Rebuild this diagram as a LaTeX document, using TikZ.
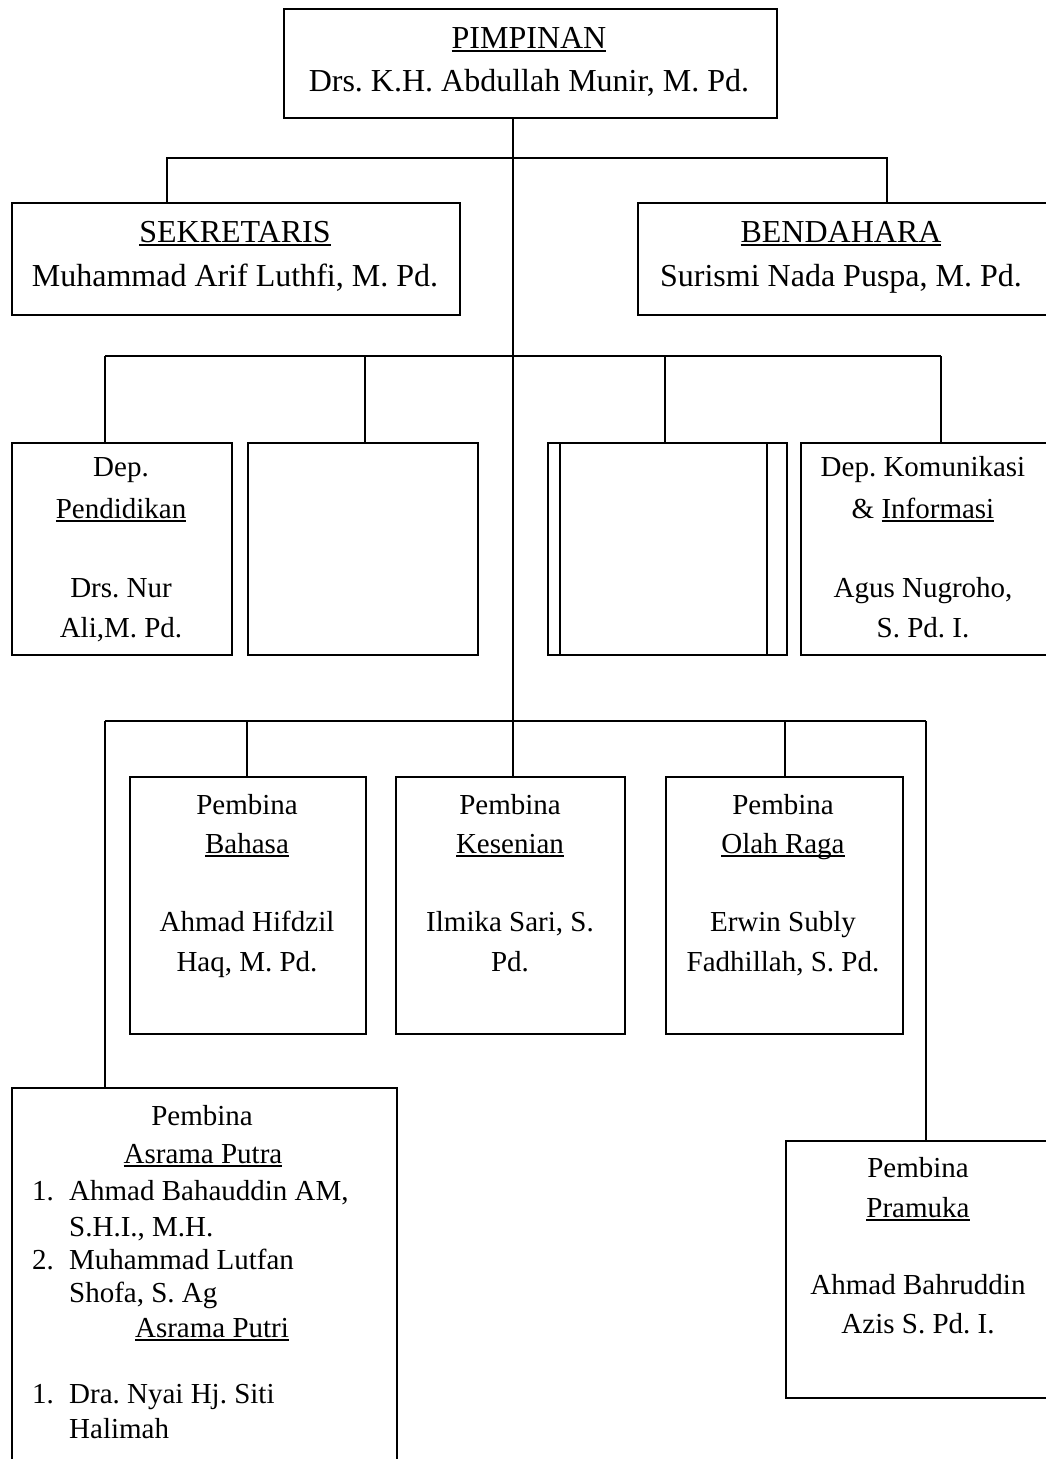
\documentclass[tikz,border=0pt]{standalone}
\usepackage{fontspec}
\setmainfont{Liberation Serif}
\frenchspacing
\newsavebox{\ulbox}
\newcommand{\uln}[1]{\sbox{\ulbox}{#1}\rlap{\rule[-4pt]{\wd\ulbox}{1.6pt}}\usebox{\ulbox}}
\begin{document}
\begin{tikzpicture}[x=1pt,y=-1pt,
  box/.style={draw, line width=1.5pt, inner sep=0pt, anchor=north west},
  conn/.style={line width=1.2pt},
  txt/.style={anchor=base, inner sep=0pt, font=\fontsize{29}{34}\selectfont\frenchspacing},
  big/.style={anchor=base, inner sep=0pt, font=\fontsize{32}{40}\selectfont\frenchspacing},
  lft/.style={anchor=base west, inner sep=0pt, font=\fontsize{29}{34}\selectfont\frenchspacing}]
\useasboundingbox (0,0) rectangle (1046,1459);
\fill[white] (0,0) rectangle (1046,1459);
\clip (0,0) rectangle (1046,1459);

% boxes
\node[box, minimum width=493, minimum height=109] (pimp) at (283,8) {};
\node[box, minimum width=448, minimum height=112] (sek) at (11,202) {};
\node[box, minimum width=413, minimum height=112] (ben) at (637,202) {};
\node[box, minimum width=220, minimum height=212] (dep1) at (11,442) {};
\node[box, minimum width=230, minimum height=212] (dep2) at (247,442) {};
\node[box, minimum width=239, minimum height=212] (dep3) at (547,442) {};
\node[box, minimum width=207, minimum height=212] (dep3i) at (559,442) {};
\node[box, minimum width=250, minimum height=212] (dep4) at (800,442) {};
\node[box, minimum width=236, minimum height=257] (bah) at (129,776) {};
\node[box, minimum width=229, minimum height=257] (kes) at (395,776) {};
\node[box, minimum width=237, minimum height=257] (olr) at (665,776) {};
\node[box, minimum width=385, minimum height=420] (asr) at (11,1087) {};
\node[box, minimum width=265, minimum height=257] (pra) at (785,1140) {};

% junctions
\coordinate (j1) at (513,158);
\coordinate (a1) at (167,158);
\coordinate (a2) at (887,158);
\coordinate (b1) at (105,356);
\coordinate (b2) at (365,356);
\coordinate (b3) at (665,356);
\coordinate (b4) at (941,356);
\coordinate (c1) at (105,721);
\coordinate (c2) at (247,721);
\coordinate (c3) at (785,721);
\coordinate (c4) at (926,721);

% connectors
\draw[conn] (pimp.south -| j1) -- (kes.north -| j1);
\draw[conn] (sek.north -| a1) -- (a1) -- (a2) -- (ben.north -| a2);
\draw[conn] (b1) -- (b4);
\draw[conn] (b1) -- (dep1.north -| b1);
\draw[conn] (b2) -- (dep2.north -| b2);
\draw[conn] (b3) -- (dep3.north -| b3);
\draw[conn] (b4) -- (dep4.north -| b4);
\draw[conn, line width=1.8pt] (c1) -- (c4);
\draw[conn] (c1) -- (asr.north -| c1);
\draw[conn] (c2) -- (bah.north -| c2);
\draw[conn] (c3) -- (olr.north -| c3);
\draw[conn] (c4) -- (pra.north -| c4);

% texts
\node[big] (p1) at (529,48) {\uln{PIMPINAN}};
\node[big] (p2) at (529,91) {Drs. K.H. Abdullah Munir, M. Pd.};
\node[big] (s1) at (235,242) {\uln{SEKRETARIS}};
\node[big] (s2) at (235,286) {Muhammad Arif Luthfi, M. Pd.};
\node[big] (e1) at (841,242) {\uln{BENDAHARA}};
\node[big] (e2) at (841,286) {Surismi Nada Puspa, M. Pd.};

\node[txt] (d11) at (121,476) {Dep.};
\node[txt] (d12) at (121,518) {\uln{Pendidikan}};
\node[txt] (d13) at (121,597) {Drs. Nur};
\node[txt] (d14) at (121,637) {Ali,M. Pd.};
\node[txt] (d41) at (923,476) {Dep. Komunikasi};
\node[txt] (d42) at (923,518) {\& \uln{Informasi}};
\node[txt] (d43) at (923,597) {Agus Nugroho,};
\node[txt] (d44) at (923,637) {S. Pd. I.};

\node[txt] (h1) at (247,814) {Pembina};
\node[txt] (h2) at (247,853) {\uln{Bahasa}};
\node[txt] (h3) at (247,931) {Ahmad Hifdzil};
\node[txt] (h4) at (247,971) {Haq, M. Pd.};
\node[txt] (k1) at (510,814) {Pembina};
\node[txt] (k2) at (510,853) {\uln{Kesenian}};
\node[txt] (k3) at (510,931) {Ilmika Sari, S.};
\node[txt] (k4) at (510,971) {Pd.};
\node[txt] (o1) at (783,814) {Pembina};
\node[txt] (o2) at (783,853) {\uln{Olah Raga}};
\node[txt] (o3) at (783,931) {Erwin Subly};
\node[txt] (o4) at (783,971) {Fadhillah, S. Pd.};

\node[txt] (r1) at (918,1177) {Pembina};
\node[txt] (r2) at (918,1217) {\uln{Pramuka}};
\node[txt] (r3) at (918,1294) {Ahmad Bahruddin};
\node[txt] (r4) at (918,1333) {Azis S. Pd. I.};

\node[txt] (q1) at (202,1125) {Pembina};
\node[txt] (q2) at (203,1163) {\uln{Asrama Putra}};
\node[lft] (q3n) at (32,1200) {1.};
\node[lft] (q3) at (69,1200) {Ahmad Bahauddin AM,};
\node[lft] (q4) at (69,1236) {S.H.I., M.H.};
\node[lft] (q5n) at (32,1269) {2.};
\node[lft] (q5) at (69,1269) {Muhammad Lutfan};
\node[lft] (q6) at (69,1302) {Shofa, S. Ag};
\node[txt] (q7) at (212,1337) {\uln{Asrama Putri}};
\node[lft] (q8n) at (32,1403) {1.};
\node[lft] (q8) at (69,1403) {Dra. Nyai Hj. Siti};
\node[lft] (q9) at (69,1438) {Halimah};
\end{tikzpicture}
\end{document}
